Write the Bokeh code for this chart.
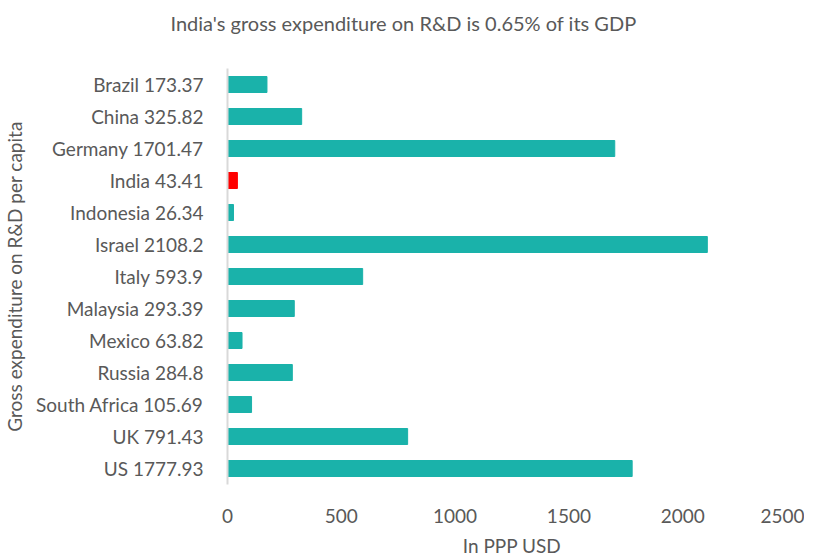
from bokeh.plotting import figure
from bokeh.models import FactorRange, Range1d, ColumnDataSource, Title, FixedTicker
from bokeh.embed import file_html
from bokeh.resources import INLINE

countries = ["Brazil", "China", "Germany", "India", "Indonesia", "Israel", "Italy",
             "Malaysia", "Mexico", "Russia", "South Africa", "UK", "US"]
values = [173.37, 325.82, 1701.47, 43.41, 26.34, 2108.2, 593.9,
          293.39, 63.82, 284.8, 105.69, 791.43, 1777.93]
highlight = "India"
x_ticks = [0, 500, 1000, 1500, 2000, 2500]

labels = [f"{c} {v}" for c, v in zip(countries, values)]
colors = ["#FF0000" if c == highlight else "#1AB2AA" for c in countries]
src = ColumnDataSource(dict(y=labels, x=values, color=colors))

FONT = "Lato"
GRAY = "#595959"
FS = "19px"

p = figure(width=804, height=559, output_backend="svg", toolbar_location=None,
           y_range=FactorRange(factors=labels[::-1], range_padding=0),
           x_range=Range1d(0, 2500),
           min_border_left=220, min_border_right=8, min_border_top=68, min_border_bottom=70)
p.hbar(y="y", right="x", left=0, height=0.5, color="color", source=src)

p.outline_line_color = None
p.xgrid.grid_line_color = None
p.ygrid.grid_line_color = None

p.xaxis.ticker = FixedTicker(ticks=x_ticks)
p.xaxis.axis_line_color = None
p.xaxis.major_tick_line_color = None
p.xaxis.minor_tick_line_color = None
p.xaxis.major_label_standoff = 18
p.xaxis.major_label_text_font = FONT
p.xaxis.major_label_text_font_size = FS
p.xaxis.major_label_text_color = GRAY
p.xaxis.axis_label = "In PPP USD"
p.xaxis.axis_label_text_font = FONT
p.xaxis.axis_label_text_font_size = FS
p.xaxis.axis_label_text_font_style = "normal"
p.xaxis.axis_label_text_color = GRAY
p.xaxis.axis_label_standoff = 8

p.yaxis.axis_line_color = "#D9D9D9"
p.yaxis.axis_line_width = 2
p.yaxis.major_tick_line_color = None
p.yaxis.minor_tick_line_color = None
p.yaxis.major_label_standoff = 18
p.yaxis.major_label_text_font = FONT
p.yaxis.major_label_text_font_size = FS
p.yaxis.major_label_text_color = GRAY
p.yaxis.axis_label = "Gross expenditure on R&D per capita"
p.yaxis.axis_label_text_font = FONT
p.yaxis.axis_label_text_font_size = FS
p.yaxis.axis_label_text_font_style = "normal"
p.yaxis.axis_label_text_color = GRAY
p.yaxis.axis_label_standoff = 7

spacer = Title(text=" ", text_font_size="1px", standoff=31)
p.add_layout(spacer, "above")
title = Title(text="India's gross expenditure on R&D is 0.65% of its GDP",
              align="left", offset=-57, standoff=0,
              text_font=FONT, text_font_size="20px", text_color=GRAY,
              text_font_style="normal")
p.add_layout(title, "above")

open("out.html", "w").write(file_html(p, INLINE))
